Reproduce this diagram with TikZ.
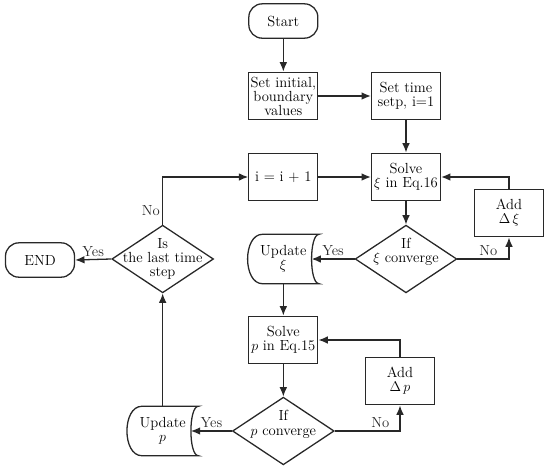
\documentclass[tikz,border=0pt]{standalone}
\usepackage{amsmath}
\usepackage{tikz}
\usetikzlibrary{arrows,arrows.meta,shapes,positioning}
\usepackage{xcolor}
\definecolor{fcline}{RGB}{40,40,40}
\tikzstyle{arrow} = [line width=1.1pt,->,>={Latex[length=2.8mm,width=2.3mm]},color=fcline]
\tikzstyle{procbox} = [rectangle, minimum width=2.07cm, minimum height=1.43cm, align=center, draw=fcline, line width=1.1pt, inner sep=1pt]
\tikzstyle{termbox} = [rectangle, rounded corners=0.4cm, minimum width=2.07cm, minimum height=1.03cm, align=center, draw=fcline, line width=1.1pt]
\tikzstyle{decision} = [diamond, minimum width=3.05cm, minimum height=2.03cm, draw=fcline, line width=1.1pt, inner sep=0pt]
\tikzstyle{storebox} = [rectangle, minimum width=2.13cm, minimum height=1.47cm, align=center, inner sep=0pt]
\tikzstyle{lbl} = [font=\fontsize{12.5}{12}\selectfont, inner sep=2pt]

\begin{document}
\begin{tikzpicture}[font=\fontsize{12.5}{12}\selectfont, every label/.style={align=center, font=\fontsize{12.5}{12}\selectfont}]
\useasboundingbox (0,0) rectangle (16.5,-14.16);

% First column of steps
\node[termbox] at (8.5,-0.63) (start) {Start};
\node[procbox] at (8.5,-2.88) (init) {Set initial,\\boundary\\values};
\node[procbox] at (12.18,-2.88) (settime) {Set time\\setp, i=1};
\node[procbox] at (8.5,-5.31) (inc) {i = i + 1};
\node[procbox] at (12.18,-5.31) (solvexi) {Solve\\$\xi$ in Eq.16};
\node[procbox] at (15.27,-6.39) (addxi) {Add\\$\Delta\,\xi$};

% Decisions
\node[decision, label={[yshift=0.22cm]center:If\\$\xi$ converge}] at (12.18,-7.77) (ifxi) {};
\node[decision, label={center:Is\\the last time\\step}] at (4.88,-7.77) (last) {};
\node[termbox] at (1.2,-7.8) (end) {END};

% Second loop
\node[storebox] at (8.5,-7.77) (upxi) {Update\\$\xi$};
\node[procbox] at (8.5,-10.2) (solvep) {Solve\\$p$ in Eq.15};
\node[procbox] at (12.0,-11.43) (addp) {Add\\$\Delta\,p$};
\node[decision, label={[yshift=0.2cm]center:If\\$p$ converge}] at (8.5,-12.93) (ifp) {};
\node[storebox] at (4.88,-12.93) (upp) {Update\\$p$};

% Update shapes
\foreach \n in {upxi,upp}
  \draw[fcline, line width=1.1pt] ([xshift=0.45cm]\n.north west) -- (\n.north east)
    .. controls ([xshift=-0.3cm]\n.north east) and ([xshift=-0.3cm]\n.south east) .. (\n.south east)
    -- ([xshift=0.45cm]\n.south west)
    .. controls ([xshift=-0.15cm]\n.south west) and ([xshift=-0.15cm]\n.north west) .. ([xshift=0.45cm]\n.north west);

% Connectors
\draw[arrow] (start) -- (init);
\draw[arrow] (init) -- (settime);
\draw[arrow] (settime) -- (solvexi);
\draw[arrow] (inc) -- (solvexi);
\draw[arrow] (solvexi) -- (ifxi);
\draw[arrow] (ifxi.east) -| node[lbl, above, pos=0.3] {No} (addxi.south);
\draw[arrow] (addxi.north) |- (solvexi.east);
\draw[arrow] (ifxi.west) -- node[lbl, above] {Yes} ([xshift=-0.225cm]upxi.east);
\draw[arrow] (upxi.south) -- (solvep.north);
\draw[arrow] (solvep) -- (ifp);
\draw[arrow] (ifp.east) -| node[lbl, above, pos=0.35] {No} (addp.south);
\draw[arrow] (addp.north) |- (solvep.east);
\draw[arrow] (ifp.west) -- node[lbl, above] {Yes} ([xshift=-0.225cm]upp.east);
\draw[arrow] (upp.north) -- (last.south);
\draw[arrow] (last.west) -- node[lbl, above] {Yes} (end.east);
\draw[arrow] (last.north) |- node[lbl, left, pos=0.15] {No} (inc.west);
\end{tikzpicture}
\end{document}
